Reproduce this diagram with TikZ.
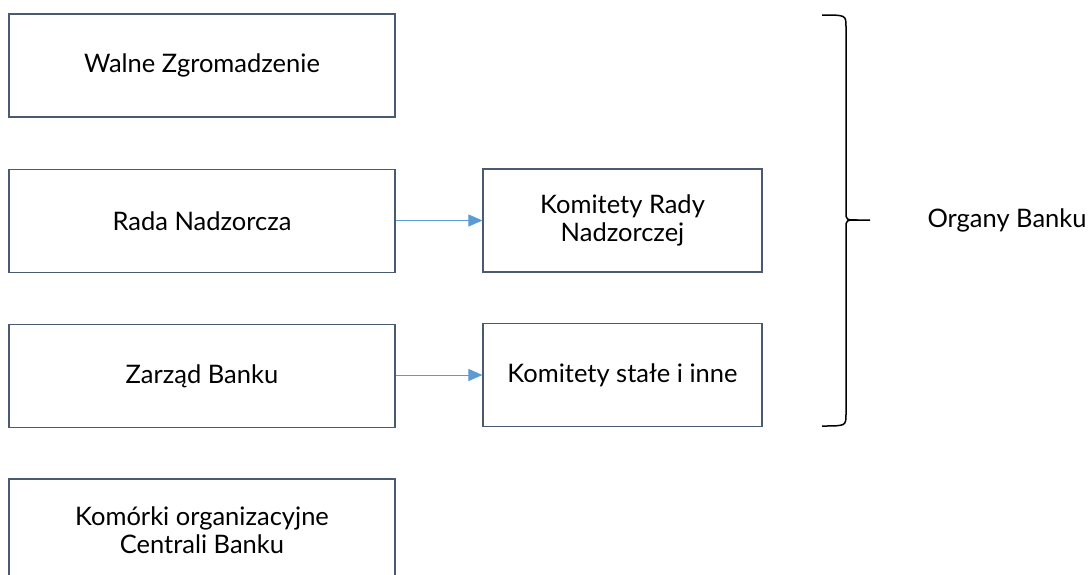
\documentclass[tikz,border=0pt]{standalone}
\usepackage{fontspec}
\setmainfont{Lato}
\usetikzlibrary{arrows.meta}
\definecolor{boxline}{HTML}{4A5A70}
\definecolor{arrowblue}{HTML}{5B9BD5}
\begin{document}
\begin{tikzpicture}[
                x=1pt, y=-1pt,
                every node/.style={font=\fontsize{25.5}{28}\selectfont, align=center},
                organ/.style={draw=boxline, line width=1.2pt, minimum width=386pt, minimum height=103pt, inner sep=0pt},
                komitet/.style={draw=boxline, line width=1.2pt, minimum width=279pt, minimum height=103pt, inner sep=0pt},
                link/.style={draw=arrowblue, line width=1pt, -{Triangle[length=14pt,width=12pt]}}
            ]
            \useasboundingbox (0,0) rectangle (1090,574);

            \node[organ] (walne) at (202,65.5) {Walne Zgromadzenie};
            \node[organ] (rada) at (202,221) {Rada Nadzorcza};
            \node[organ] (zarzad) at (202,376) {Zarząd Banku};
            \node[organ] (komorki) at (202,530.5) {Komórki organizacyjne\\Centrali Banku};

            \node[komitet] (komRady) at (622.5,220.5) {Komitety Rady\\Nadzorczej};
            \node[komitet] (komStale) at (622.5,375) {Komitety stałe i inne};

            \draw[link] (rada.east |- komRady.west) -- (komRady.west);
            \draw[link] (zarzad.east |- komStale.west) -- (komStale.west);

            % klamra
            \coordinate (braceTop) at (822,15);
            \coordinate (braceBot) at (822,426);
            \coordinate (braceTip) at (870,220);
            \draw[line width=1.5pt, line join=round]
                (braceTop) .. controls (846,15) .. (846,27) -- (846,212)
                .. controls (846,220) .. (858,220) -- (braceTip);
            \draw[line width=1.5pt, line join=round]
                (858,220) .. controls (846,220) .. (846,228) -- (846,414)
                .. controls (846,426) .. (braceBot);
            \node (organy) at (1007,220) {Organy Banku};

        \end{tikzpicture}
\end{document}
